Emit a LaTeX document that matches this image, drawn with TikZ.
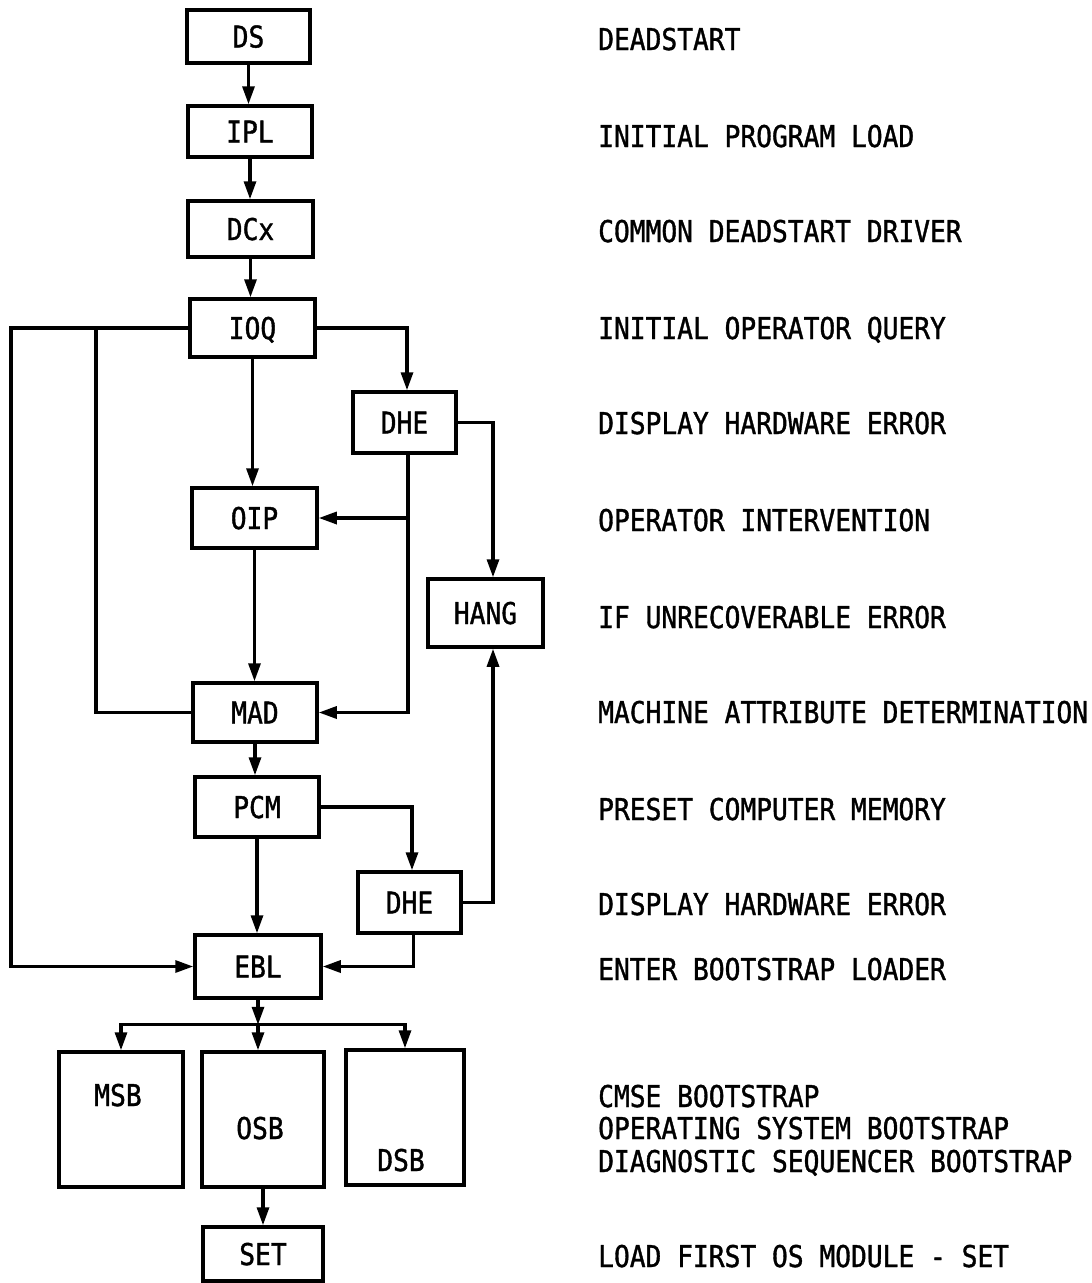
\documentclass[tikz,border=0pt]{standalone}
\usepackage{fontspec}
\newfontfamily\tw[FakeStretch=0.875,FakeBold=1.2]{DejaVu Sans Mono}
\usetikzlibrary{arrows.meta}
\begin{document}
\begin{tikzpicture}[x=1pt,y=-1pt,
  every node/.style={font=\tw\fontsize{30}{30}\selectfont},
  box/.style={draw, line width=3.5pt, inner sep=0pt, text height=22pt, text depth=0pt},
  conn/.style={line width=3.2pt},
  arr/.style={conn, -{Triangle[length=18pt,width=12pt]}},
  lbl/.style={anchor=base west, inner sep=0pt}]
\useasboundingbox[fill=white] (0,0) rectangle (1092,1283);

% boxes
\node[box, minimum width=123pt, minimum height=53pt] (ds)   at (248.5,36.5) {DS};
\node[box, minimum width=124pt, minimum height=51pt] (ipl)  at (250,131.5) {IPL};
\node[box, minimum width=125pt, minimum height=56pt] (dcx)  at (250.5,229) {DCx};
\node[box, minimum width=125pt, minimum height=58pt] (ioq)  at (252.5,328) {IOQ};
\node[box, minimum width=103pt, minimum height=61pt] (dhe1) at (404.5,422.5) {DHE};
\node[box, minimum width=125pt, minimum height=60pt] (oip)  at (254.5,518) {OIP};
\node[box, minimum width=115pt, minimum height=68pt] (hang) at (485.5,613) {HANG};
\node[box, minimum width=124pt, minimum height=59pt] (mad)  at (255,712.5) {MAD};
\node[box, minimum width=124pt, minimum height=60pt] (pcm)  at (257,807) {PCM};
\node[box, minimum width=103pt, minimum height=61pt] (dhe2) at (409.5,902.5) {DHE};
\node[box, minimum width=126pt, minimum height=63pt] (ebl)  at (258,966.5) {EBL};
\node[box, minimum width=124pt, minimum height=135pt] (msb) at (121,1119.5) {};
\node[box, minimum width=122pt, minimum height=135pt] (osb) at (263,1119.5) {};
\node[box, minimum width=118pt, minimum height=135pt] (dsb) at (405,1117.5) {};
\node[box, minimum width=120pt, minimum height=54pt] (set)  at (263,1254) {SET};
\node[inner sep=0pt, text height=22pt, text depth=0pt] (msbt) at (118,1095) {MSB};
\node[inner sep=0pt, text height=22pt, text depth=0pt] (osbt) at (260,1128) {OSB};
\node[inner sep=0pt, text height=22pt, text depth=0pt] (dsbt) at (401,1160) {DSB};

% main column
\draw[arr] (ds.south) -- (ds.south |- ipl.north);
\draw[arr] (ipl.south) -- (ipl.south |- dcx.north);
\draw[arr] (dcx.south) -- (dcx.south |- ioq.north);
\draw[arr] (ioq.south) -- (ioq.south |- oip.north);
\draw[arr] (oip.south) -- (oip.south |- mad.north);
\draw[arr] (mad.south) -- (mad.south |- pcm.north);
\draw[arr] (pcm.south) -- (pcm.south |- ebl.north);
\draw[arr] (osb.south) -- (osb.south |- set.north);

% IOQ -> DHE -> HANG, OIP, MAD
\draw[arr] (ioq.east) -| ([xshift=2.5pt]dhe1.north);
\draw[arr] (dhe1.east) -| ([xshift=7.5pt]hang.north);
\coordinate (dv) at ([xshift=3.5pt]dhe1.south);
\draw[arr] (dv) |- (mad.east);
\draw[arr] (dv |- oip.east) -- (oip.east);

% PCM -> DHE -> HANG, EBL
\draw[arr] (pcm.east) -| ([xshift=2.5pt]dhe2.north);
\draw[arr] (dhe2.east) -| ([xshift=7.5pt]hang.south);
\coordinate (dv2) at ([xshift=4pt]dhe2.south);
\draw[arr] (dv2) |- (ebl.east);

% left bypass lines
\coordinate (L1) at (11,328);
\coordinate (L2) at (96,328);
\draw[arr] (ioq.west) -- (L1) |- (ebl.west);
\draw[conn] (mad.west) -| (L2);

% bootstrap fan-out
\coordinate (J) at ([yshift=-25pt]ebl.south);
\draw[arr] (ebl.south) -- (J);
\draw[arr] (J) -| (msb.north);
\draw[arr] (J) -| (dsb.north);
\draw[arr] (J) -- (J |- osb.north);

% descriptions
\node[lbl] (t1)  at (598,50)   {DEADSTART};
\node[lbl] (t2)  at (598,147)  {INITIAL PROGRAM LOAD};
\node[lbl] (t3)  at (598,242)  {COMMON DEADSTART DRIVER};
\node[lbl] (t4)  at (598,339)  {INITIAL OPERATOR QUERY};
\node[lbl] (t5)  at (598,434)  {DISPLAY HARDWARE ERROR};
\node[lbl] (t6)  at (598,531)  {OPERATOR INTERVENTION};
\node[lbl] (t7)  at (598,628)  {IF UNRECOVERABLE ERROR};
\node[lbl] (t8)  at (598,723)  {MACHINE ATTRIBUTE DETERMINATION};
\node[lbl] (t9)  at (598,820)  {PRESET COMPUTER MEMORY};
\node[lbl] (t10) at (598,915)  {DISPLAY HARDWARE ERROR};
\node[lbl] (t11) at (598,980)  {ENTER BOOTSTRAP LOADER};
\node[lbl] (t12) at (598,1107) {CMSE BOOTSTRAP};
\node[lbl] (t13) at (598,1139) {OPERATING SYSTEM BOOTSTRAP};
\node[lbl] (t14) at (598,1172) {DIAGNOSTIC SEQUENCER BOOTSTRAP};
\node[lbl] (t15) at (598,1267) {LOAD FIRST OS MODULE - SET};
\end{tikzpicture}
\end{document}
